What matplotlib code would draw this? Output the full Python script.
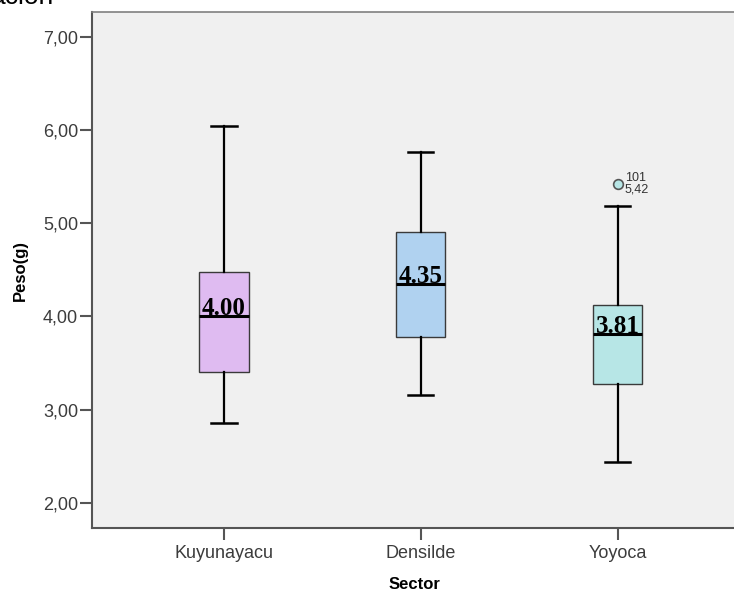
import matplotlib
matplotlib.use("Agg")
import matplotlib.pyplot as plt

# box statistics per sector (weight in grams)
sectors = ["Kuyunayacu", "Densilde", "Yoyoca"]
whislo = [2.86, 3.16, 2.44]
q1 = [3.40, 3.78, 3.28]
med = [4.00, 4.35, 3.81]
q3 = [4.48, 4.90, 4.12]
whishi = [6.04, 5.76, 5.18]
fliers = [[], [], [5.42]]
flier_ids = [[], [], [101]]
colors = ["#dfbbf1", "#b0d2f0", "#b7e6e6"]

yticks = [2, 3, 4, 5, 6, 7]

fig = plt.figure(figsize=(7.34, 5.93), dpi=100)
ax = fig.add_axes([0.1253, 0.1096, 0.88, 0.8694])
ax.set_facecolor("#f0f0f0")

stats = []
for i in range(len(sectors)):
    stats.append(dict(label=sectors[i], whislo=whislo[i], q1=q1[i], med=med[i],
                      q3=q3[i], whishi=whishi[i], fliers=fliers[i]))

pos = list(range(len(sectors)))
bp = ax.bxp(stats, positions=pos, widths=0.25, capwidths=0.128,
            patch_artist=True, showfliers=True,
            boxprops=dict(edgecolor="#3a3a3a", linewidth=1.0),
            medianprops=dict(color="black", linewidth=2.2),
            whiskerprops=dict(color="black", linewidth=1.6),
            capprops=dict(color="black", linewidth=1.8),
            flierprops=dict(marker="o", markersize=7, markerfacecolor=colors[2],
                            markeredgecolor="#555555", markeredgewidth=1.2))
for patch, c in zip(bp["boxes"], colors):
    patch.set_facecolor(c)

# median value printed just above each median line
for x, m in zip(pos, med):
    ax.text(x, m + 0.01, "%.2f" % m, ha="center", va="baseline",
            family="Liberation Serif", fontweight="bold", fontsize=18, color="black")

# case number and value next to outliers
for x, fl, ids in zip(pos, fliers, flier_ids):
    for v, n in zip(fl, ids):
        ax.annotate("%d\n%s" % (n, ("%.2f" % v).replace(".", ",")), (x, v),
                    xytext=(5, 0), textcoords="offset points", ha="left", va="center",
                    fontsize=9, family="Liberation Sans", color="#333333",
                    linespacing=0.9)

ax.set_xlim(-0.67, 2.61)
ax.set_ylim(1.73, 7.26)
ax.set_xticks(pos)
ax.set_xticklabels(sectors)
ax.set_yticks(yticks)
ax.set_yticklabels([("%.2f" % t).replace(".", ",") for t in yticks])

for lab in ax.get_xticklabels() + ax.get_yticklabels():
    lab.set_family("Liberation Sans")
    lab.set_fontsize(13)
    lab.set_color("#3c3c3c")
ax.tick_params(axis="both", direction="out", length=8.5, width=1.5, color="#555555")
ax.tick_params(axis="y", pad=1.5)
ax.tick_params(axis="x", pad=3.5)

ax.spines["left"].set_color("#555555")
ax.spines["left"].set_linewidth(1.5)
ax.spines["bottom"].set_color("#555555")
ax.spines["bottom"].set_linewidth(1.5)
ax.spines["top"].set_color("#808080")
ax.spines["top"].set_linewidth(1.2)
ax.spines["right"].set_visible(False)

ax.set_ylabel("Peso(g)", family="Liberation Sans", fontweight="bold", fontsize=12,
              color="black", labelpad=11)
ax.set_xlabel("Sector", family="Liberation Sans", fontweight="bold", fontsize=12,
              color="black", labelpad=11)

# title line sitting above the chart
fig.text(-0.012, 0.993, "ación", family="Liberation Sans", fontsize=19,
         va="baseline", ha="left", color="black")

fig.savefig("out.png", dpi=100)
